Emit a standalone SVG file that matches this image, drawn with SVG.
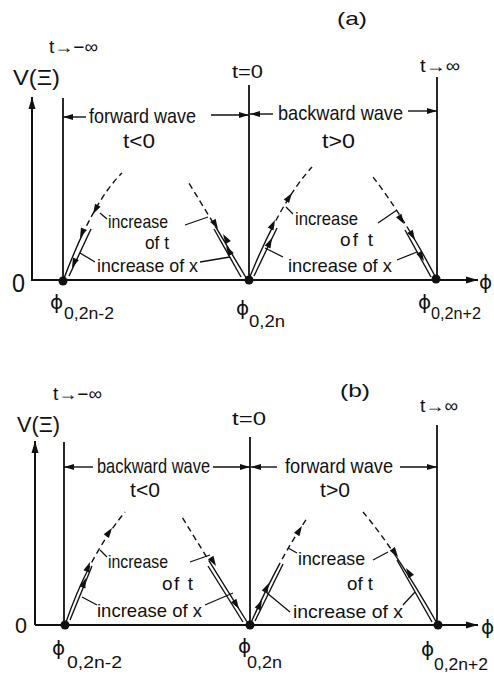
<svg xmlns="http://www.w3.org/2000/svg" xmlns:xlink="http://www.w3.org/1999/xlink" width="494" height="675" viewBox="0 0 494 675">
<style>
.t{font-family:"Liberation Sans",Arial,sans-serif;fill:#111;}
.p{font-family:"DejaVu Sans","Liberation Sans",sans-serif;fill:#111;}
.ln{stroke:#111;stroke-width:1.8;fill:none;}
.ax{stroke:#111;stroke-width:2;fill:none;}
.thin{stroke:#111;stroke-width:1.4;fill:none;}
.ld{stroke:#111;stroke-width:1.3;fill:none;}
.dot{fill:#111;}
</style>
<defs>
<marker id="m" markerWidth="10" markerHeight="7" refX="10" refY="3.5" orient="auto" markerUnits="userSpaceOnUse"><path d="M0,0.5 L10,3.5 L0,6.5 Z" fill="#111"/></marker>
<marker id="ma" markerWidth="12" markerHeight="8" refX="12" refY="4" orient="auto" markerUnits="userSpaceOnUse"><path d="M0,0.5 L12,4 L0,7.5 Z" fill="#111"/></marker>
<path id="ah" d="M0,0 L-10,-3.2 L-10,3.2 Z" fill="#111"/>
</defs>

<g id="panel-a">
<text class="t" x="337" y="25" font-size="19" textLength="30" lengthAdjust="spacingAndGlyphs">(a)</text>
<text class="t" x="49" y="53" font-size="18" textLength="49" lengthAdjust="spacingAndGlyphs">t→−∞</text>
<text class="t" x="13" y="85" font-size="22" textLength="47" lengthAdjust="spacingAndGlyphs">V(Ξ)</text>
<text class="t" x="232" y="78" font-size="19" textLength="31" lengthAdjust="spacingAndGlyphs">t=0</text>
<text class="t" x="420" y="72" font-size="18" textLength="40" lengthAdjust="spacingAndGlyphs">t→∞</text>
<text class="t" x="12" y="292" font-size="25" textLength="13" lengthAdjust="spacingAndGlyphs">0</text>

<g id="axes-a">
<line class="ax" x1="32" y1="281" x2="32" y2="97" marker-end="url(#ma)"/>
<line class="ax" x1="32" y1="280" x2="478" y2="280" marker-end="url(#ma)"/>
<text class="p" x="479" y="289" font-size="20">ϕ</text>
<line class="ln" x1="63" y1="98" x2="63" y2="281"/>
<line class="ln" x1="249" y1="85" x2="249" y2="280"/>
<line class="ln" x1="437" y1="77" x2="437" y2="279"/>
<circle class="dot" cx="63" cy="281" r="4.5"/>
<circle class="dot" cx="249" cy="280" r="4.5"/>
<circle class="dot" cx="436" cy="279" r="4.5"/>
</g>

<g id="spans-a">
<line class="thin" x1="86" y1="117" x2="63" y2="117" marker-end="url(#m)"/>
<text class="t" x="89" y="123" font-size="21" textLength="107" lengthAdjust="spacingAndGlyphs">forward wave</text>
<line class="thin" x1="211" y1="115" x2="249" y2="115" marker-end="url(#m)"/>
<text class="t" x="123" y="148" font-size="20" textLength="32" lengthAdjust="spacingAndGlyphs">t&lt;0</text>
<line class="thin" x1="273" y1="114" x2="250" y2="114" marker-end="url(#m)"/>
<text class="t" x="278" y="120" font-size="21" textLength="125" lengthAdjust="spacingAndGlyphs">backward wave</text>
<line class="thin" x1="408" y1="111" x2="437" y2="111" marker-end="url(#m)"/>
<text class="t" x="322" y="148" font-size="20" textLength="33" lengthAdjust="spacingAndGlyphs">t&gt;0</text>
</g>

<g id="curves-a">
<path class="thin" d="M63,281 Q93,201 122,173" stroke-dasharray="56 4 6 4 6 4 6 4 6 4 6 4 6 4 6 4 6 4 6 4 6 4"/>
<line class="thin" x1="69" y1="276" x2="91" y2="229"/>
<path class="thin" d="M248,281 Q219,232 187,180" stroke-dasharray="64 4 6 4 6 4 6 4 6 4 6 4 6 4 6 4 6 4 6 4"/>
<line class="thin" x1="241" y1="277" x2="214" y2="229"/>
<path class="thin" d="M249,279 Q280,202 312,167" stroke-dasharray="60 4 6 4 6 4 6 4 6 4 6 4 6 4 6 4 6 4 6 4"/>
<line class="thin" x1="254" y1="276" x2="277" y2="228"/>
<path class="thin" d="M436,278 Q404,217 373,177" stroke-dasharray="59 4 6 4 6 4 6 4 6 4 6 4 6 4 6 4 6 4 6 4"/>
<line class="thin" x1="431" y1="277" x2="405" y2="230"/>
<use xlink:href="#ah" href="#ah" transform="translate(93,214) rotate(119)"/>
<use xlink:href="#ah" href="#ah" transform="translate(80,238) rotate(113)"/>
<use xlink:href="#ah" href="#ah" transform="translate(72,268) rotate(113)"/>
<use xlink:href="#ah" href="#ah" transform="translate(218,229) rotate(59)"/>
<use xlink:href="#ah" href="#ah" transform="translate(223,234) rotate(239)"/>
<use xlink:href="#ah" href="#ah" transform="translate(226,246) rotate(239)"/>
<use xlink:href="#ah" href="#ah" transform="translate(292,193) rotate(-56)"/>
<use xlink:href="#ah" href="#ah" transform="translate(275,220) rotate(-64)"/>
<use xlink:href="#ah" href="#ah" transform="translate(272,238) rotate(-64)"/>
<use xlink:href="#ah" href="#ah" transform="translate(404,224) rotate(58)"/>
<use xlink:href="#ah" href="#ah" transform="translate(415,240) rotate(60)"/>
<use xlink:href="#ah" href="#ah" transform="translate(424,261) rotate(60)"/>
</g>

<g id="labels-a">
<text class="t" x="108" y="228" font-size="19" textLength="60" lengthAdjust="spacingAndGlyphs">increase</text>
<text class="t" x="145" y="249" font-size="19" textLength="24" lengthAdjust="spacingAndGlyphs">of t</text>
<text class="t" x="97" y="272" font-size="19" textLength="101" lengthAdjust="spacingAndGlyphs">increase of x</text>
<text class="t" x="295" y="225" font-size="19" textLength="63" lengthAdjust="spacingAndGlyphs">increase</text>
<text class="t" x="340" y="246" font-size="19" textLength="33" lengthAdjust="spacing">of t</text>
<text class="t" x="288" y="272" font-size="19" textLength="104" lengthAdjust="spacingAndGlyphs">increase of x</text>
<path class="ld" d="M107,219 L100,213 M185,225 L208,217 M95,262 L80,253 M200,262 L230,257"/>
<path class="ld" d="M293,214 L286,207 M378,223 L397,210 M283,257 L265,248 M397,260 L417,252"/>
<text class="p" x="50" y="309" font-size="20">ϕ</text>
<text class="t" x="64" y="319" font-size="16" textLength="50" lengthAdjust="spacingAndGlyphs">0,2n-2</text>
<text class="p" x="236" y="315" font-size="20">ϕ</text>
<text class="t" x="249" y="327" font-size="16" textLength="36" lengthAdjust="spacingAndGlyphs">0,2n</text>
<text class="p" x="418" y="309" font-size="20">ϕ</text>
<text class="t" x="431" y="319" font-size="16" textLength="50" lengthAdjust="spacingAndGlyphs">0,2n+2</text>
</g>
</g>

<g id="panel-b">
<text class="t" x="340" y="397" font-size="19" textLength="30" lengthAdjust="spacingAndGlyphs">(b)</text>
<text class="t" x="53" y="400" font-size="18" textLength="49" lengthAdjust="spacingAndGlyphs">t→−∞</text>
<text class="t" x="17" y="432" font-size="22" textLength="43" lengthAdjust="spacingAndGlyphs">V(Ξ)</text>
<text class="t" x="232" y="425" font-size="19" textLength="34" lengthAdjust="spacingAndGlyphs">t=0</text>
<text class="t" x="420" y="412" font-size="18" textLength="38" lengthAdjust="spacingAndGlyphs">t→∞</text>
<text class="t" x="15" y="633" font-size="22" textLength="12" lengthAdjust="spacingAndGlyphs">0</text>

<g id="axes-b">
<line class="ax" x1="35" y1="625" x2="35" y2="441" marker-end="url(#ma)"/>
<line class="ax" x1="35" y1="625" x2="478" y2="625" marker-end="url(#ma)"/>
<text class="p" x="481" y="634" font-size="20">ϕ</text>
<line class="ln" x1="64" y1="442" x2="64" y2="625"/>
<line class="ln" x1="250" y1="437" x2="250" y2="625"/>
<line class="ln" x1="437" y1="425" x2="437" y2="625"/>
<circle class="dot" cx="65" cy="625" r="4.5"/>
<circle class="dot" cx="250" cy="625" r="4.5"/>
<circle class="dot" cx="438" cy="625" r="4.5"/>
</g>

<g id="spans-b">
<line class="thin" x1="93" y1="467" x2="64" y2="467" marker-end="url(#m)"/>
<text class="t" x="97" y="473" font-size="21" textLength="113" lengthAdjust="spacingAndGlyphs">backward wave</text>
<line class="thin" x1="213" y1="467" x2="250" y2="467" marker-end="url(#m)"/>
<text class="t" x="130" y="497" font-size="20" textLength="30" lengthAdjust="spacingAndGlyphs">t&lt;0</text>
<line class="thin" x1="277" y1="467" x2="251" y2="467" marker-end="url(#m)"/>
<text class="t" x="285" y="473" font-size="21" textLength="108" lengthAdjust="spacingAndGlyphs">forward wave</text>
<line class="thin" x1="400" y1="467" x2="437" y2="467" marker-end="url(#m)"/>
<text class="t" x="320" y="497" font-size="20" textLength="30" lengthAdjust="spacingAndGlyphs">t&gt;0</text>
</g>

<g id="curves-b">
<path class="thin" d="M65,625 Q88,557 125,512" stroke-dasharray="64 4 6 4 6 4 6 4 6 4 6 4 6 4 6 4 6 4 6 4"/>
<line class="thin" x1="70" y1="620" x2="92" y2="566"/>
<path class="thin" d="M249,625 Q212,566 182,517" stroke-dasharray="76 4 6 4 6 4 6 4 6 4 6 4 6 4 6 4 6 4 6 4"/>
<line class="thin" x1="243" y1="622" x2="208" y2="566"/>
<path class="thin" d="M250,625 Q280,557 308,517" stroke-dasharray="69 4 6 4 6 4 6 4 6 4 6 4 6 4 6 4 6 4 6 4"/>
<line class="thin" x1="255" y1="621" x2="283" y2="564"/>
<path class="thin" d="M438,625 Q396,551 363,512" stroke-dasharray="86 4 6 4 6 4 6 4 6 4 6 4 6 4 6 4 6 4 6 4"/>
<line class="thin" x1="432" y1="622" x2="397" y2="560"/>
<use xlink:href="#ah" href="#ah" transform="translate(112,528) rotate(-55)"/>
<use xlink:href="#ah" href="#ah" transform="translate(90,562) rotate(-69)"/>
<use xlink:href="#ah" href="#ah" transform="translate(86,578) rotate(-69)"/>
<use xlink:href="#ah" href="#ah" transform="translate(216,566) rotate(58)"/>
<use xlink:href="#ah" href="#ah" transform="translate(239,609) rotate(58)"/>
<use xlink:href="#ah" href="#ah" transform="translate(302,526) rotate(-58)"/>
<use xlink:href="#ah" href="#ah" transform="translate(269,583) rotate(-64)"/>
<use xlink:href="#ah" href="#ah" transform="translate(262,600) rotate(-64)"/>
<use xlink:href="#ah" href="#ah" transform="translate(398,557) rotate(55)"/>
<use xlink:href="#ah" href="#ah" transform="translate(406,568) rotate(-122)"/>
</g>

<g id="labels-b">
<text class="t" x="108" y="568" font-size="19" textLength="60" lengthAdjust="spacingAndGlyphs">increase</text>
<text class="t" x="162" y="590" font-size="19" textLength="31" lengthAdjust="spacing">of t</text>
<text class="t" x="97" y="617" font-size="19" textLength="105" lengthAdjust="spacingAndGlyphs">increase of x</text>
<text class="t" x="298" y="565" font-size="19" textLength="67" lengthAdjust="spacingAndGlyphs">increase</text>
<text class="t" x="347" y="590" font-size="19" textLength="26" lengthAdjust="spacingAndGlyphs">of t</text>
<text class="t" x="293" y="618" font-size="19" textLength="110" lengthAdjust="spacingAndGlyphs">increase of x</text>
<path class="ld" d="M107,557 L100,550 M190,562 L210,555 M97,605 L82,597 M205,605 L233,593"/>
<path class="ld" d="M297,553 L288,548 M373,560 L388,552 M290,612 L267,593 M403,605 L415,592"/>
<text class="p" x="52" y="655" font-size="20">ϕ</text>
<text class="t" x="67" y="668" font-size="16" textLength="55" lengthAdjust="spacingAndGlyphs">0,2n-2</text>
<text class="p" x="238" y="653" font-size="20">ϕ</text>
<text class="t" x="247" y="668" font-size="16" textLength="35" lengthAdjust="spacingAndGlyphs">0,2n</text>
<text class="p" x="421" y="656" font-size="20">ϕ</text>
<text class="t" x="434" y="670" font-size="16" textLength="54" lengthAdjust="spacingAndGlyphs">0,2n+2</text>
</g>
</g>
</svg>
